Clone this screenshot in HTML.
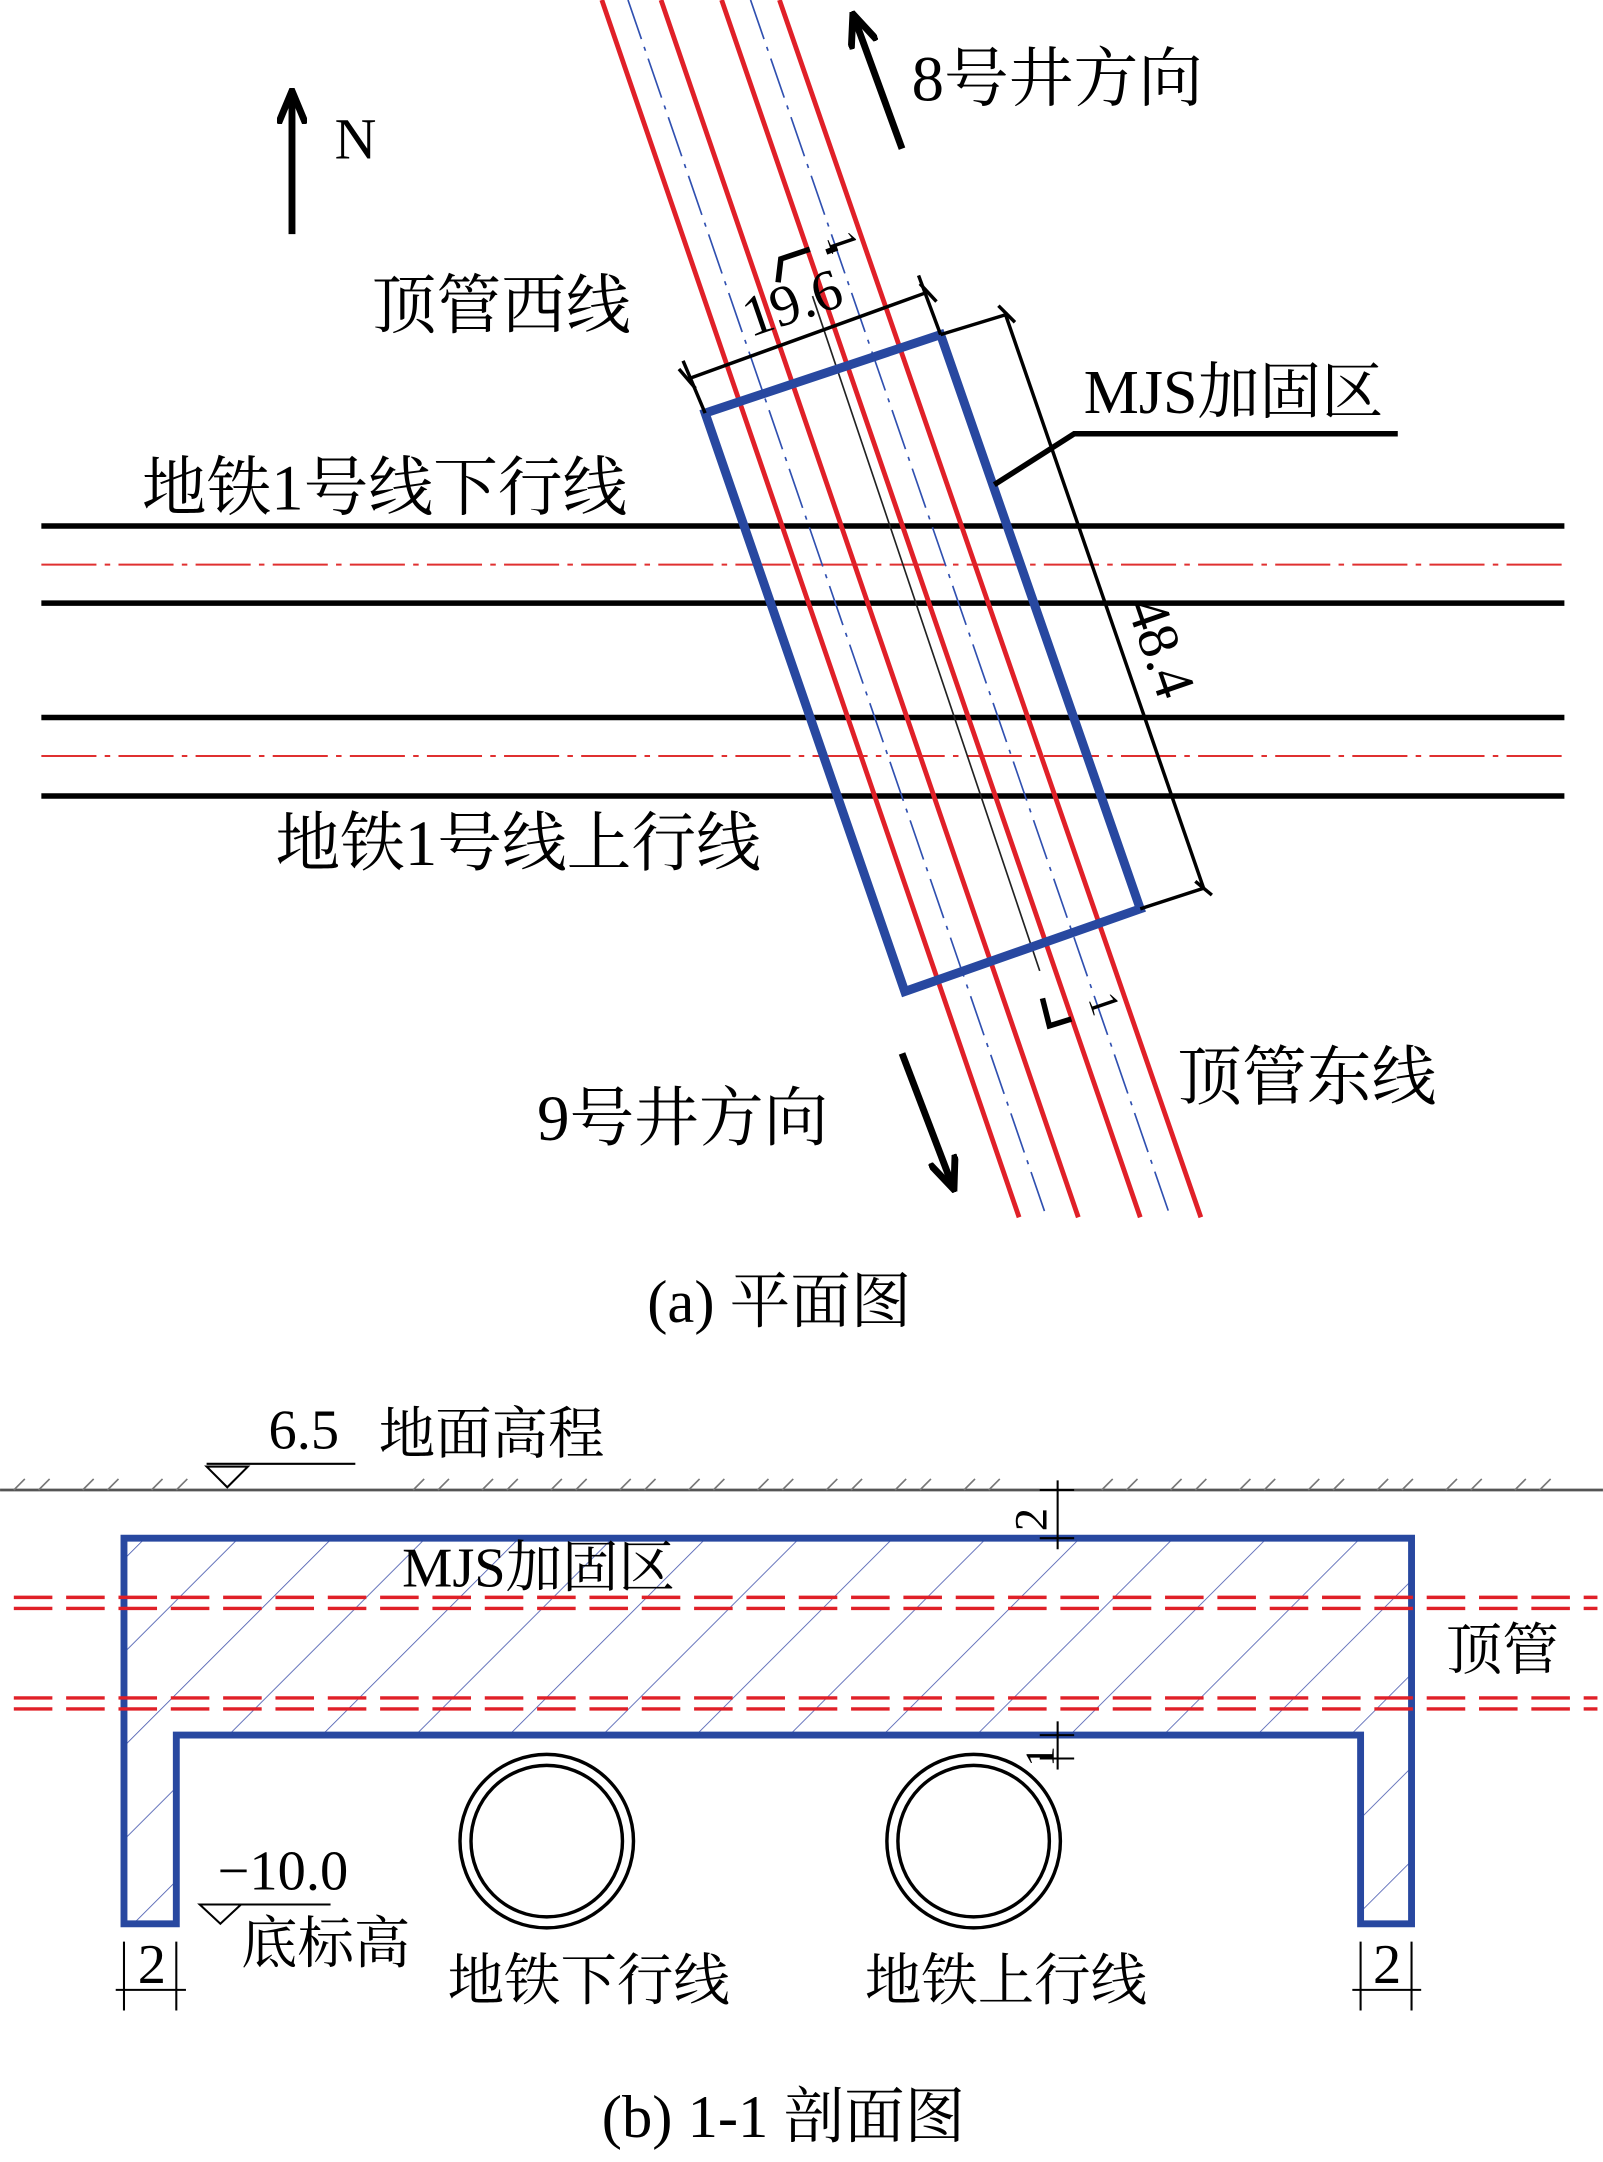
<!DOCTYPE html>
<html><head><meta charset="utf-8"><style>
html,body{margin:0;padding:0;background:#fff}
svg{display:block}
text{font-family:"Liberation Serif","Noto Serif CJK SC",serif;fill:#000}
</style></head><body>
<svg width="1603" height="2162" viewBox="0 0 1164 1570" xmlns="http://www.w3.org/2000/svg">
<defs>
<marker id="ah" markerWidth="26" markerHeight="22" refX="22" refY="11" orient="auto" markerUnits="userSpaceOnUse" viewBox="0 0 26 22"><path d="M0,1 L24,11 L0,21" fill="none" stroke="#000" stroke-width="5"/></marker>
<pattern id="hatch" patternUnits="userSpaceOnUse" width="48" height="48" patternTransform="rotate(45)">
<line x1="0" y1="0" x2="0" y2="48" stroke="#4a5bb0" stroke-width="1.2"/></pattern>
</defs>
<g stroke="#000" stroke-width="4">
<line x1="30" y1="382" x2="1136" y2="382"/><line x1="30" y1="438" x2="1136" y2="438"/>
<line x1="30" y1="521" x2="1136" y2="521"/><line x1="30" y1="578" x2="1136" y2="578"/>
</g>
<g stroke="#e03030" stroke-width="1.5" stroke-dasharray="40,6,4,6">
<line x1="30" y1="410" x2="1136" y2="410"/><line x1="30" y1="549" x2="1136" y2="549"/>
</g>
<g stroke="#e02028" stroke-width="3.5">
<line x1="437" y1="0" x2="740" y2="884"/><line x1="480" y1="0" x2="783" y2="884"/>
<line x1="524" y1="0" x2="828" y2="884"/><line x1="566" y1="0" x2="872" y2="884"/>
</g>
<g stroke="#3050b0" stroke-width="1.2" stroke-dasharray="30,6,3,6">
<line x1="456" y1="0" x2="760" y2="884"/><line x1="545" y1="0" x2="850" y2="884"/>
</g>
<line x1="590" y1="215" x2="755" y2="705" stroke="#222" stroke-width="1.2"/>
<polygon points="512,300 683,243 828,660 657,720" fill="none" stroke="#2848a0" stroke-width="6.5"/>
<g stroke="#000" stroke-width="2.5" fill="none">
<line x1="500" y1="275" x2="674" y2="212"/><line x1="496" y1="262" x2="512" y2="300"/><line x1="667" y1="200" x2="683" y2="243"/>
<line x1="493" y1="268" x2="505" y2="282"/><line x1="668" y1="206" x2="680" y2="219"/>
<line x1="683" y1="243" x2="732" y2="228"/><line x1="828" y1="660" x2="874" y2="645"/>
<line x1="730" y1="228" x2="874" y2="645"/>
<line x1="725" y1="222" x2="737" y2="234"/><line x1="868" y1="640" x2="880" y2="650"/>
<polyline points="722,352 780,315 1015,315" stroke-width="4"/>
<polyline points="565,205 567,188 588,181" stroke-width="4"/><polyline points="600,183 608,180" stroke-width="4"/>
<polyline points="757,725 762,745 778,740" stroke-width="4"/>
</g>
<text x="0" y="0" font-size="42" transform="translate(545,245) rotate(-19)">19.6</text>
<text x="0" y="0" font-size="42" transform="translate(818,440) rotate(71)">48.4</text>
<text x="0" y="0" font-size="30" transform="translate(600,172) rotate(71)">1</text>
<text x="0" y="0" font-size="30" transform="translate(790,725) rotate(71)">1</text>
<g stroke="#000" stroke-width="5">
<line x1="212" y1="170" x2="212" y2="68" marker-end="url(#ah)"/>
<line x1="655" y1="108" x2="620" y2="12" marker-end="url(#ah)"/>
<line x1="655" y1="765" x2="692" y2="862" marker-end="url(#ah)"/>
</g>
<g font-size="47">
<text x="243" y="115" font-size="42">N</text>
<text x="662" y="73">8号井方向</text>
<text x="270" y="238">顶管西线</text>
<text x="787" y="300" font-size="45">MJS加固区</text>
<text x="103" y="370">地铁1号线下行线</text>
<text x="200" y="628">地铁1号线上行线</text>
<text x="855" y="798">顶管东线</text>
<text x="390" y="828">9号井方向</text>
<text x="470" y="960" font-size="44">(a)  平面图</text>
</g>
<line x1="0" y1="1082" x2="1164" y2="1082" stroke="#555" stroke-width="2"/>
<g stroke="#777" stroke-width="1.2">
<path d="M10,1082 l8,-8 M28,1082 l8,-8 M60,1082 l8,-8 M78,1082 l8,-8 M110,1082 l8,-8 M128,1082 l8,-8 M300,1082 l8,-8 M318,1082 l8,-8 M350,1082 l8,-8 M368,1082 l8,-8 M400,1082 l8,-8 M418,1082 l8,-8 M450,1082 l8,-8 M468,1082 l8,-8 M500,1082 l8,-8 M518,1082 l8,-8 M550,1082 l8,-8 M568,1082 l8,-8 M600,1082 l8,-8 M618,1082 l8,-8 M650,1082 l8,-8 M668,1082 l8,-8 M700,1082 l8,-8 M718,1082 l8,-8 M800,1082 l8,-8 M818,1082 l8,-8 M850,1082 l8,-8 M868,1082 l8,-8 M900,1082 l8,-8 M918,1082 l8,-8 M950,1082 l8,-8 M968,1082 l8,-8 M1000,1082 l8,-8 M1018,1082 l8,-8 M1050,1082 l8,-8 M1068,1082 l8,-8 M1100,1082 l8,-8 M1118,1082 l8,-8"/>
</g>
<polygon points="90,1117 1025,1117 1025,1397 988,1397 988,1260 128,1260 128,1397 90,1397" fill="url(#hatch)" stroke="#2848a0" stroke-width="5"/>
<g stroke="#e02028" stroke-width="2.5" stroke-dasharray="28,10">
<line x1="10" y1="1160" x2="1160" y2="1160"/><line x1="10" y1="1168" x2="1160" y2="1168"/>
<line x1="10" y1="1233" x2="1160" y2="1233"/><line x1="10" y1="1241" x2="1160" y2="1241"/>
</g>
<g fill="none" stroke="#000" stroke-width="2.5">
<circle cx="397" cy="1337" r="63"/><circle cx="397" cy="1337" r="55"/>
<circle cx="707" cy="1337" r="63"/><circle cx="707" cy="1337" r="55"/>
</g>
<g stroke="#000" stroke-width="1.5" fill="none">
<line x1="150" y1="1063" x2="258" y2="1063"/><polygon points="150,1065 180,1065 165,1080"/>
<line x1="145" y1="1383" x2="240" y2="1383"/><polygon points="145,1383 175,1383 160,1397"/>
<line x1="768" y1="1075" x2="768" y2="1125"/><line x1="755" y1="1082" x2="780" y2="1082"/><line x1="755" y1="1117" x2="780" y2="1117"/>
<line x1="768" y1="1250" x2="768" y2="1285"/><line x1="755" y1="1260" x2="780" y2="1260"/><line x1="755" y1="1277" x2="780" y2="1277"/>
<line x1="84" y1="1445" x2="135" y2="1445"/><line x1="90" y1="1410" x2="90" y2="1460"/><line x1="128" y1="1410" x2="128" y2="1460"/>
<line x1="982" y1="1445" x2="1032" y2="1445"/><line x1="988" y1="1410" x2="988" y2="1460"/><line x1="1025" y1="1410" x2="1025" y2="1460"/>
</g>
<g font-size="41">
<text x="195" y="1052">6.5</text>
<text x="275" y="1055">地面高程</text>
<text x="292" y="1152">MJS加固区</text>
<text x="1050" y="1212">顶管</text>
<text x="158" y="1372">−10.0</text>
<text x="175" y="1425">底标高</text>
<text x="100" y="1440">2</text>
<text x="997" y="1440">2</text>
<text x="0" y="0" transform="translate(760,1112) rotate(-90)" font-size="34">2</text>
<text x="0" y="0" transform="translate(765,1283) rotate(-90)" font-size="30">1</text>
<text x="325" y="1452">地铁下行线</text>
<text x="628" y="1452">地铁上行线</text>
<text x="437" y="1552" font-size="44">(b) 1-1 剖面图</text>
</g>
</svg>
</body></html>
